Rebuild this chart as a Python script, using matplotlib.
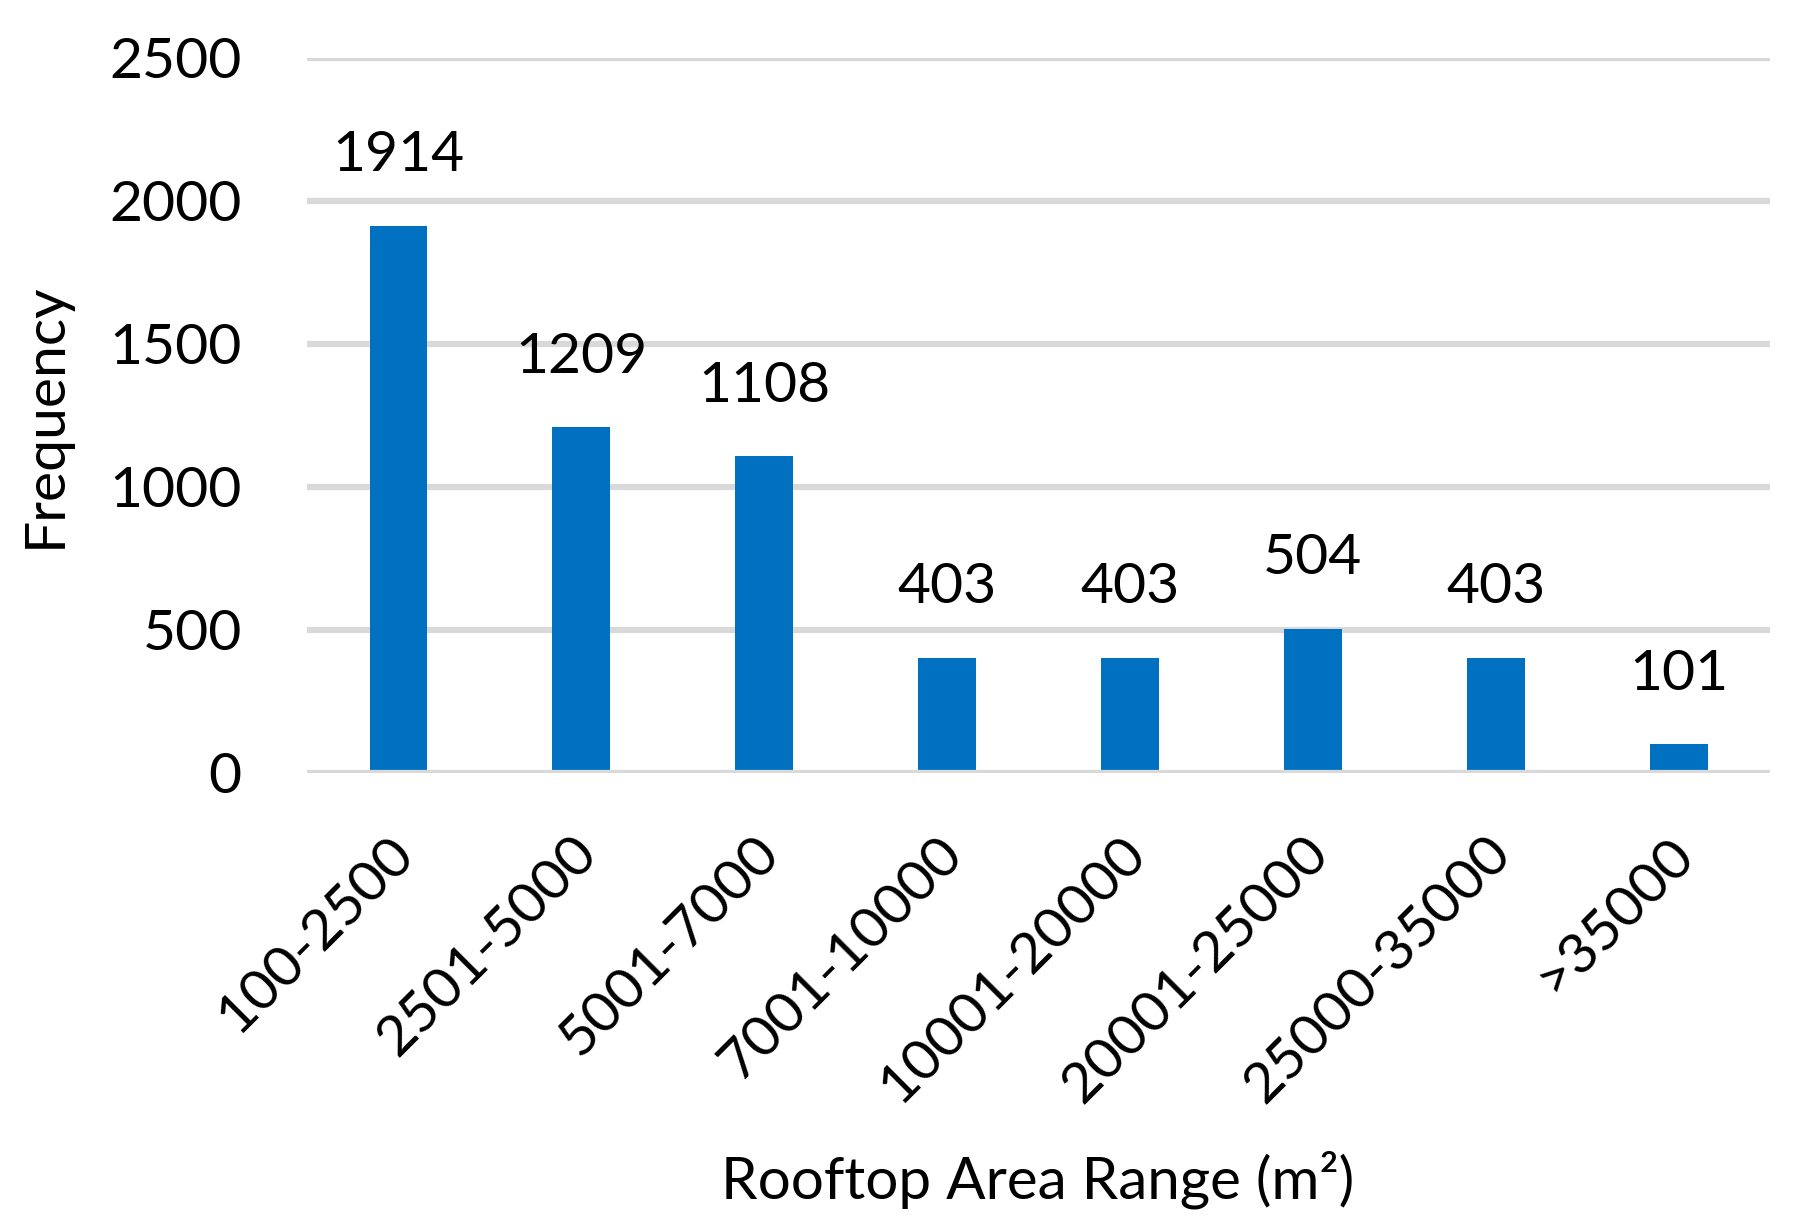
import matplotlib
matplotlib.use('Agg')
import matplotlib.pyplot as plt
import matplotlib.transforms as mtransforms

# data
categories = ['100-2500', '2501-5000', '5001-7000', '7001-10000',
              '10001-20000', '20001-25000', '25000-35000', '>35000']
frequency = [1914, 1209, 1108, 403, 403, 504, 403, 101]
y_ticks = [0, 500, 1000, 1500, 2000, 2500]

bar_color = '#0070C0'
grid_color = '#D9D9D9'
font_size = 41

plt.rcParams['font.family'] = ['Lato', 'DejaVu Sans']

fig = plt.figure(figsize=(18.18, 12.26), dpi=100)
ax = fig.add_axes([0.1689, 0.3695, 0.8047, 0.5832])

x = list(range(len(categories)))
ax.bar(x, frequency, width=0.317, color=bar_color, zorder=2)

# value labels above bars
for xi, v in zip(x, frequency):
    ax.annotate(str(v), (xi, v), xytext=(0, 32), textcoords='offset points',
                ha='center', va='bottom', fontsize=font_size)

# gridlines
for t in y_ticks:
    ax.axhline(t, color=grid_color, linewidth=4.5, zorder=3 if t == 0 else 1)

ax.set_xlim(-0.5, len(categories) - 0.5)
ax.set_ylim(0, 2500)
ax.set_yticks(y_ticks)
ax.set_yticklabels([str(t) for t in y_ticks], fontsize=font_size)
ax.tick_params(axis='y', length=0, pad=47)

ax.set_xticks(x)
ax.set_xticklabels(categories, fontsize=font_size, rotation=45,
                   ha='right', va='center', rotation_mode='anchor')
ax.tick_params(axis='x', length=0, pad=52)
# shift rotated labels so their ends sit near the bar centres
offset = mtransforms.ScaledTranslation(0.07, 0.0, fig.dpi_scale_trans)
for lbl in ax.get_xticklabels():
    lbl.set_transform(lbl.get_transform() + offset)

for s in ax.spines.values():
    s.set_visible(False)

ax.set_ylabel('Frequency', fontsize=font_size, labelpad=28)
fig.text(0.571, 0.038, 'Rooftop Area Range (m²)', fontsize=font_size + 1,
         ha='center', va='center')

fig.savefig('out.png', dpi=100)
